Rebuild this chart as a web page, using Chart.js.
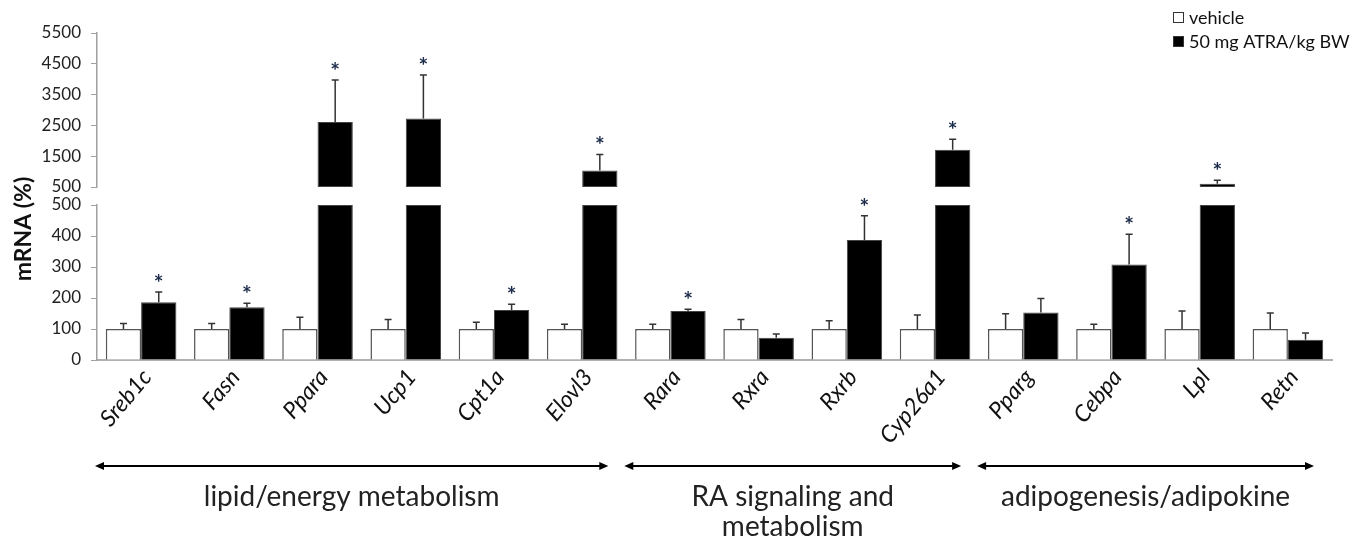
<!DOCTYPE html>
<html><head><meta charset="utf-8">
<script src="https://cdn.jsdelivr.net/npm/chart.js@4.4.0/dist/chart.umd.min.js"></script>
<style>html,body{margin:0;padding:0;background:#fff;} #wrap{position:relative;width:1364px;height:542px;}</style>
</head><body><div id="wrap"><canvas id="c" width="1364" height="542"></canvas></div>
<script>
const categories = ['Sreb1c','Fasn','Ppara','Ucp1','Cpt1a','Elovl3','Rara','Rxra','Rxrb','Cyp26a1','Pparg','Cebpa','Lpl','Retn'];
const vehicle = [100,100,100,100,100,100,100,100,100,100,100,100,100,100];
const vehicleErrTop = [118,118,138,131,122,115,115,131,127,145,149,115,158,152];
const atra = [186,170,2610,2727,161,1039,158,72,387,1711,153,308,607,65];
const atraErrTop = [219,183,3974,4136,180,1558,164,84,465,2049,198,406,717,87];
const significant = [1,1,1,1,1,1,1,0,1,1,0,1,1,0];
const lowerTicks = [0,100,200,300,400,500];
const upperTicks = [500,1500,2500,3500,4500,5500];
const breakValue = 500;
const seriesNames = ['vehicle','50 mg ATRA/kg BW'];
const groupNames = [['lipid/energy metabolism'],['RA signaling and','metabolism'],['adipogenesis/adipokine']];
const groupFrom = [0,6,10];
const groupTo = [5,9,13];

const atraLower = atra.map(v => Math.min(v, breakValue));
const atraUpper = atra.map(v => v > breakValue ? [breakValue, v] : null);

const FONT = 'Lato, "Open Sans", sans-serif';

const overlay = {
  id: 'overlay',
  afterDatasetsDraw(chart) {
    const ctx = chart.ctx;
    const yL = chart.scales.y, yU = chart.scales.y2;
    const mV = chart.getDatasetMeta(0), mA = chart.getDatasetMeta(1);
    ctx.save();
    ctx.strokeStyle = '#333'; ctx.lineWidth = 1.5;
    const cap = 3.5;
    function errbar(x, y0, y1) {
      ctx.beginPath(); ctx.moveTo(x, y0); ctx.lineTo(x, y1);
      ctx.moveTo(x - cap, y1); ctx.lineTo(x + cap, y1); ctx.stroke();
    }
    for (let i = 0; i < categories.length; i++) {
      const xv = mV.data[i].x;
      errbar(xv, yL.getPixelForValue(vehicle[i]), yL.getPixelForValue(vehicleErrTop[i]));
      const xa = mA.data[i].x;
      const sc = atra[i] > breakValue ? yU : yL;
      const ye = sc.getPixelForValue(atraErrTop[i]);
      errbar(xa, sc.getPixelForValue(atra[i]), ye);
      if (significant[i]) {
        ctx.fillStyle = '#1c2b4a';
        ctx.font = 'bold 23px ' + FONT;
        ctx.textAlign = 'center'; ctx.textBaseline = 'alphabetic';
        ctx.fillText('*', xa, ye - 1);
      }
    }
    ctx.restore();
  },
  afterDraw(chart) {
    const ctx = chart.ctx;
    const xs = chart.scales.x;
    const pitch = xs.getPixelForValue(1) - xs.getPixelForValue(0);
    ctx.save();
    const ay = 466;
    ctx.strokeStyle = '#000'; ctx.fillStyle = '#000'; ctx.lineWidth = 2;
    for (let g = 0; g < groupNames.length; g++) {
      const x0 = xs.getPixelForValue(groupFrom[g]) - pitch / 2 - 2;
      const x1 = xs.getPixelForValue(groupTo[g]) + pitch / 2 - 18;
      ctx.beginPath(); ctx.moveTo(x0 + 4, ay); ctx.lineTo(x1 - 4, ay); ctx.stroke();
      ctx.beginPath(); ctx.moveTo(x0, ay); ctx.lineTo(x0 + 9, ay - 4); ctx.lineTo(x0 + 9, ay + 4); ctx.closePath(); ctx.fill();
      ctx.beginPath(); ctx.moveTo(x1, ay); ctx.lineTo(x1 - 9, ay - 4); ctx.lineTo(x1 - 9, ay + 4); ctx.closePath(); ctx.fill();
      ctx.font = '28px ' + FONT; ctx.fillStyle = '#222';
      ctx.textAlign = 'center'; ctx.textBaseline = 'middle';
      groupNames[g].forEach((t, k) => ctx.fillText(t, (x0 + x1) / 2, 497 + k * 30));
      ctx.fillStyle = '#000';
    }
    ctx.translate(24, 229); ctx.rotate(-Math.PI / 2);
    ctx.font = 'bold 23px ' + FONT; ctx.fillStyle = '#111';
    ctx.textAlign = 'center'; ctx.textBaseline = 'middle';
    ctx.fillText('mRNA (%)', 0, 0);
    ctx.setTransform(1, 0, 0, 1, 0, 0);
    const ds = chart.data.datasets;
    [0, 1].forEach((d, k) => {
      const by = 12 + k * 24;
      ctx.fillStyle = ds[d].backgroundColor; ctx.strokeStyle = '#333'; ctx.lineWidth = 1;
      ctx.fillRect(1173, by, 11, 11); ctx.strokeRect(1173.5, by + 0.5, 10, 10);
      ctx.fillStyle = '#111'; ctx.font = '18px ' + FONT;
      ctx.textAlign = 'left'; ctx.textBaseline = 'middle';
      ctx.fillText(ds[d].label, 1189, by + 6);
    });
    ctx.restore();
  }
};

const yCommon = {
  type: 'linear', position: 'left', stack: 'v', stacked: false,
  border: {display: true, color: '#a0a0a0', width: 1.5},
  grid: {display: true, drawOnChartArea: false, drawTicks: true, tickLength: 6, color: '#a0a0a0'},
  ticks: {color: '#222', padding: 10, font: {family: FONT, size: 17}, callback: v => String(v)},
  afterFit(s) { s.width = 97; }
};

new Chart(document.getElementById('c'), {
  type: 'bar',
  data: {
    labels: categories,
    datasets: [
      {label: seriesNames[0], data: vehicle, backgroundColor: '#ffffff', borderColor: '#555', borderWidth: 1.5, yAxisID: 'y', stack: 'veh'},
      {label: seriesNames[1], data: atraLower, backgroundColor: '#000000', borderColor: '#444', borderWidth: 1, yAxisID: 'y', stack: 'atra'},
      {label: seriesNames[1] + ' ', data: atraUpper, backgroundColor: '#000000', borderColor: '#444', borderWidth: 1, yAxisID: 'y2', stack: 'atra', borderSkipped: false}
    ]
  },
  options: {
    responsive: false, animation: false,
    layout: {padding: {top: 33, right: 32, left: 0, bottom: 0}},
    datasets: {bar: {categoryPercentage: 0.8, barPercentage: 1}},
    plugins: {legend: {display: false}, tooltip: {enabled: false}},
    scales: {
      x: {
        grid: {display: true, drawOnChartArea: false, drawTicks: false},
        border: {display: true, color: '#b0b0b0', width: 2},
        ticks: {autoSkip: false, maxRotation: 50, minRotation: 50, padding: 4, labelOffset: 6, color: '#111', font: {family: FONT, size: 23, style: 'italic'}},
        afterFit(s) { s.height = 182; }
      },
      y: Object.assign({}, yCommon, {
        min: lowerTicks[0], max: lowerTicks[lowerTicks.length - 1], stackWeight: 155, weight: 1,
        afterBuildTicks(s) { s.ticks = lowerTicks.map(v => ({value: v})); }
      }),
      gap: {
        type: 'linear', position: 'left', stack: 'v', stackWeight: 18, weight: 2, min: 0, max: 1,
        border: {display: false}, grid: {display: false}, ticks: {display: false},
        afterFit(s) { s.width = 97; }
      },
      y2: Object.assign({}, yCommon, {
        min: upperTicks[0], max: upperTicks[upperTicks.length - 1], stackWeight: 154, weight: 3,
        afterBuildTicks(s) { s.ticks = upperTicks.map(v => ({value: v})); }
      })
    }
  },
  plugins: [overlay]
});
</script>
</body></html>
